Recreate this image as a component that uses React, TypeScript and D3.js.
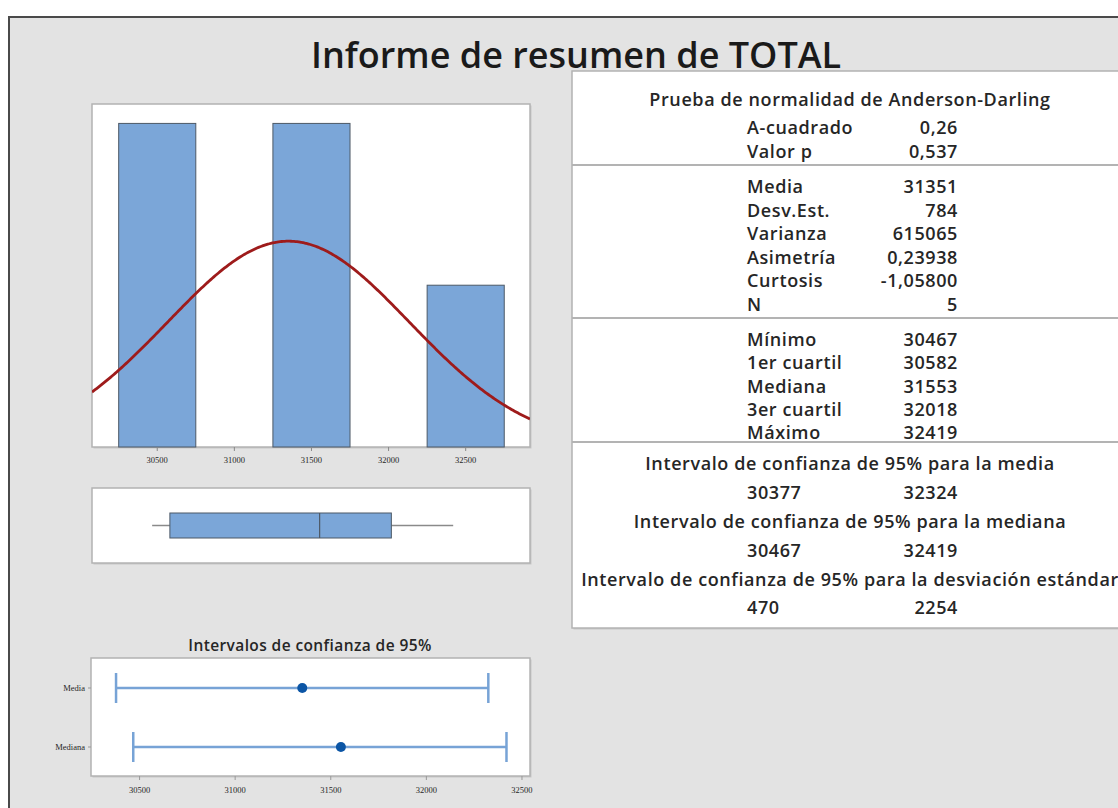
import React from 'react';
import * as d3 from 'd3';

// histogram data (bins of TOTAL)
const binCenters = [30500, 31500, 32500];
const binCounts = [2, 2, 1];
const binWidth = 500;
const axisTicks = [30500, 31000, 31500, 32000, 32500];

// summary statistics
const mean = 31351;
const stdDev = 784;
const sampleN = 5;
const fiveNum = [30467, 30582, 31553, 32018, 32419];

// confidence intervals
const ciNames = ['Media', 'Mediana'];
const ciLow = [30377, 30467];
const ciHigh = [32324, 32419];
const ciEstimate = [31351, 31553];

// report table
const adLabels = ['A-cuadrado', 'Valor p'];
const adValues = ['0,26', '0,537'];
const momentLabels = ['Media', 'Desv.Est.', 'Varianza', 'Asimetría', 'Curtosis', 'N'];
const momentValues = ['31351', '784', '615065', '0,23938', '-1,05800', '5'];
const quantLabels = ['Mínimo', '1er cuartil', 'Mediana', '3er cuartil', 'Máximo'];
const quantValues = ['30467', '30582', '31553', '32018', '32419'];
const ciTitles = [
  'Intervalo de confianza de 95% para la media',
  'Intervalo de confianza de 95% para la mediana',
  'Intervalo de confianza de 95% para la desviación estándar',
];
const ciTableLow = ['30377', '30467', '470'];
const ciTableHigh = ['32324', '32419', '2254'];

const FONT = '"Open Sans", "Noto Sans", sans-serif';
const TEXT = '#262626';

const Panel = ({ x, y, w, h }: { x: number; y: number; w: number; h: number }) => (
  <g>
    <rect x={x + 1.5} y={y + 1.5} width={w} height={h} fill="#c8c8c8" />
    <rect x={x} y={y} width={w} height={h} fill="#fff" stroke="#b3b3b3" strokeWidth={1.5} />
  </g>
);

const App = () => {
  // histogram
  const hx = d3.scaleLinear().domain([30077, 32917]).range([92, 530]);
  const hy = d3.scaleLinear().domain([0, 2.12]).range([447, 104]);
  const pdf = (v: number) =>
    (sampleN * binWidth) / (stdDev * Math.sqrt(2 * Math.PI)) *
    Math.exp(-0.5 * ((v - mean) / stdDev) ** 2);
  const curveXs = d3.range(30077, 32918, 10);
  const curve = d3.line<number>().x(v => hx(v)).y(v => hy(pdf(v))).curve(d3.curveBasis)(curveXs) || '';

  // boxplot uses the histogram scale
  const boxTop = 513;
  const boxBot = 538;
  const boxMid = (boxTop + boxBot) / 2;

  // CI plot
  const cx = d3.scaleLinear().domain([30246, 32542]).range([91, 530]);
  const cy = d3.scalePoint<string>().domain(ciNames).range([688, 747]);

  const tableLeft = 572;
  const tableCenter = 850;
  const labX = 747;
  const valX = 958;

  const rows: { label: string; value: string; y: number }[] = [];
  adLabels.forEach((l, i) => rows.push({ label: l, value: adValues[i], y: 128 + i * 24 }));
  momentLabels.forEach((l, i) => rows.push({ label: l, value: momentValues[i], y: 187 + i * 23.6 }));
  quantLabels.forEach((l, i) => rows.push({ label: l, value: quantValues[i], y: 340 + i * 23.3 }));

  return (
    <svg width={1118} height={808} style={{ position: 'absolute', left: 0, top: 0, background: '#fff' }}
      fontFamily={FONT}>
      <rect x={9} y={17} width={1130} height={820} fill="#e3e3e3" stroke="#4a4a4a" strokeWidth={2} />

      <text x={576} y={68} textAnchor="middle" fontSize={36} fontWeight={600} fill="#1a1a1a">
        Informe de resumen de TOTAL
      </text>

      {/* histogram */}
      <Panel x={92} y={104} w={438} h={343} />
      <defs>
        <clipPath id="hclip"><rect x={92} y={104} width={438} height={343} /></clipPath>
      </defs>
      {binCenters.map((c, i) => (
        <rect key={c} x={hx(c - binWidth / 2)} y={hy(binCounts[i])}
          width={hx(c + binWidth / 2) - hx(c - binWidth / 2)} height={hy(0) - hy(binCounts[i])}
          fill="#7ba6d8" stroke="#4d5966" strokeWidth={1} />
      ))}
      <path d={curve} fill="none" stroke="#9e1b1b" strokeWidth={2.8} clipPath="url(#hclip)" />
      {axisTicks.map(t => (
        <g key={t}>
          <line x1={hx(t)} x2={hx(t)} y1={447} y2={451} stroke="#888" />
          <text x={hx(t)} y={463} textAnchor="middle" fontSize={8.5} fill={TEXT} fontFamily="Liberation Serif">{t}</text>
        </g>
      ))}

      {/* boxplot */}
      <Panel x={92} y={488} w={438} h={75} />
      <line x1={hx(fiveNum[0])} x2={hx(fiveNum[1])} y1={boxMid} y2={boxMid} stroke="#8a8a8a" strokeWidth={1.5} />
      <line x1={hx(fiveNum[3])} x2={hx(fiveNum[4])} y1={boxMid} y2={boxMid} stroke="#8a8a8a" strokeWidth={1.5} />
      <rect x={hx(fiveNum[1])} y={boxTop} width={hx(fiveNum[3]) - hx(fiveNum[1])} height={boxBot - boxTop}
        fill="#7ba6d8" stroke="#4d5966" strokeWidth={1} />
      <line x1={hx(fiveNum[2])} x2={hx(fiveNum[2])} y1={boxTop} y2={boxBot} stroke="#4d5966" strokeWidth={1.2} />

      {/* confidence intervals */}
      <text x={310} y={651} textAnchor="middle" fontSize={15.5} fontWeight={600} letterSpacing={0.4} fill={TEXT}>
        Intervalos de confianza de 95%
      </text>
      <Panel x={91} y={658} w={439} h={118} />
      {ciNames.map((n, i) => {
        const y = cy(n) as number;
        return (
          <g key={n}>
            <line x1={88} x2={91} y1={y} y2={y} stroke="#999" />
            <text x={85} y={y + 3} textAnchor="end" fontSize={8.5} fill={TEXT} fontFamily="Liberation Serif">{n}</text>
            <line x1={cx(ciLow[i])} x2={cx(ciHigh[i])} y1={y} y2={y} stroke="#77a3d6" strokeWidth={2.5} />
            <line x1={cx(ciLow[i])} x2={cx(ciLow[i])} y1={y - 15} y2={y + 15} stroke="#77a3d6" strokeWidth={2.5} />
            <line x1={cx(ciHigh[i])} x2={cx(ciHigh[i])} y1={y - 15} y2={y + 15} stroke="#77a3d6" strokeWidth={2.5} />
            <circle cx={cx(ciEstimate[i])} cy={y} r={5} fill="#0b55a5" />
          </g>
        );
      })}
      {axisTicks.map(t => (
        <g key={'c' + t}>
          <line x1={cx(t)} x2={cx(t)} y1={776} y2={780} stroke="#999" />
          <text x={cx(t)} y={793} textAnchor="middle" fontSize={8.5} fill={TEXT} fontFamily="Liberation Serif">{t}</text>
        </g>
      ))}

      {/* report table */}
      <rect x={tableLeft + 1.5} y={72.5} width={560} height={557} fill="#c8c8c8" />
      <rect x={tableLeft} y={71} width={560} height={557} fill="#fff" stroke="#b3b3b3" strokeWidth={1.5} />
      {[165, 318, 442].map(y => (
        <line key={y} x1={tableLeft} x2={1118} y1={y} y2={y} stroke="#b3b3b3" strokeWidth={2} />
      ))}
      <g fontSize={18} fontWeight={600} letterSpacing={0.6} fill={TEXT}>
        <text x={tableCenter} y={106} textAnchor="middle">Prueba de normalidad de Anderson-Darling</text>
        {rows.map(r => (
          <g key={r.label + r.y}>
            <text x={labX} y={r.y + 6}>{r.label}</text>
            <text x={valX} y={r.y + 6} textAnchor="end">{r.value}</text>
          </g>
        ))}
        {ciTitles.map((t, i) => (
          <g key={t}>
            <text x={tableCenter} y={470 + i * 58} textAnchor="middle">{t}</text>
            <text x={labX} y={499 + i * 57.5}>{ciTableLow[i]}</text>
            <text x={valX} y={499 + i * 57.5} textAnchor="end">{ciTableHigh[i]}</text>
          </g>
        ))}
      </g>
    </svg>
  );
};

export default App;
